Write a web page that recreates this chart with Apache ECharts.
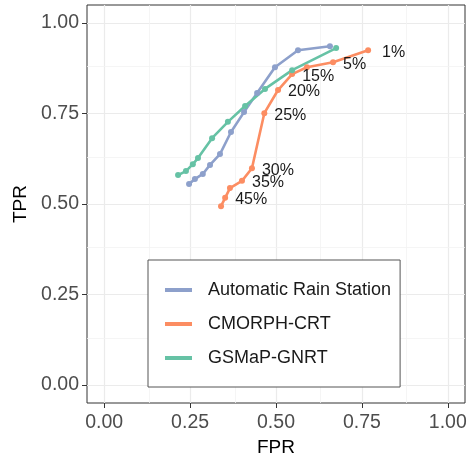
<!DOCTYPE html>
<html>
<head>
<meta charset="utf-8">
<script src="https://cdn.jsdelivr.net/npm/echarts@6/dist/echarts.min.js"></script>
<style>html,body{margin:0;padding:0;background:#fff}#c{width:474px;height:457px}</style>
</head>
<body>
<div id="c"></div>
<script>
// Data (FPR, TPR)
const seriesNames = ['Automatic Rain Station', 'CMORPH-CRT', 'GSMaP-GNRT'];
const stationFPR = [0.657, 0.564, 0.497, 0.445, 0.407, 0.369, 0.337, 0.308, 0.287, 0.264, 0.247];
const stationTPR = [0.936, 0.925, 0.878, 0.807, 0.754, 0.699, 0.638, 0.608, 0.583, 0.569, 0.555];
const cmorphFPR = [0.768, 0.666, 0.590, 0.547, 0.506, 0.466, 0.430, 0.401, 0.366, 0.352, 0.340];
const cmorphTPR = [0.925, 0.892, 0.878, 0.859, 0.815, 0.751, 0.599, 0.564, 0.544, 0.517, 0.494];
const cmorphLabels = ['1%', '5%', '', '15%', '20%', '25%', '30%', '35%', '', '45%', ''];
const gsmapFPR = [0.675, 0.547, 0.468, 0.410, 0.360, 0.314, 0.273, 0.258, 0.238, 0.215];
const gsmapTPR = [0.931, 0.870, 0.818, 0.771, 0.727, 0.682, 0.627, 0.610, 0.591, 0.580];
const tickValues = [0, 0.25, 0.5, 0.75, 1];
const minorValues = [0.125, 0.375, 0.625, 0.875];

const colors = ['#8DA0CB', '#FC8D62', '#66C2A5'];
const font = 'Liberation Sans, Arial, Helvetica, sans-serif';

function pairs(xs, ys) { return xs.map((x, i) => [x, ys[i]]); }

const cmorphData = cmorphFPR.map((x, i) => {
  const lab = cmorphLabels[i];
  return {
    value: [x, cmorphTPR[i]],
    label: {
      show: lab !== '',
      formatter: lab,
      position: 'right',
      distance: i === 0 ? 11 : 7,
      offset: [0, 2],
      fontSize: 16,
      fontFamily: font,
      color: '#1a1a1a'
    }
  };
});

const gridLineData = [];
tickValues.forEach(v => {
  gridLineData.push({ xAxis: v, lineStyle: { color: '#EBEBEB', width: 1.2, type: 'solid' } });
  gridLineData.push({ yAxis: v, lineStyle: { color: '#EBEBEB', width: 1.2, type: 'solid' } });
});
minorValues.forEach(v => {
  gridLineData.push({ xAxis: v, lineStyle: { color: '#F2F2F2', width: 0.8, type: 'solid' } });
  gridLineData.push({ yAxis: v, lineStyle: { color: '#F2F2F2', width: 0.8, type: 'solid' } });
});

function axisCommon(name, margin) {
  return {
    type: 'value', min: -0.05, max: 1.05,
    name: name, nameLocation: 'middle',
    nameTextStyle: { fontSize: 19, color: '#000', fontFamily: font },
    axisLine: { show: false, onZero: false },
    axisTick: { show: true, customValues: tickValues, length: 5, lineStyle: { color: '#333', width: 1 } },
    axisLabel: { customValues: tickValues, formatter: v => v.toFixed(2), fontSize: 19.5, color: '#4D4D4D', fontFamily: font, margin: margin },
    splitLine: { show: false },
    minorSplitLine: { show: false }
  };
}

const chart = echarts.init(document.getElementById('c'), null, { renderer: 'canvas' });
const lineSeries = (name, data, color) => ({
  name: name, type: 'line', data: data, z: 3,
  symbol: 'circle', symbolSize: 6, showSymbol: true,
  lineStyle: { color: color, width: 2.6 },
  itemStyle: { color: color },
  emphasis: { disabled: true }
});
chart.setOption({
  animation: false,
  color: colors,
  grid: { left: 87, right: 9, top: 5, bottom: 54, containLabel: false, outerBoundsMode: 'none', show: true, borderColor: '#333', borderWidth: 1, backgroundColor: '#fff' },
  xAxis: Object.assign(axisCommon('FPR', 10), { nameGap: 35 }),
  yAxis: Object.assign(axisCommon('TPR', 8), { nameGap: 57 }),
  legend: {
    data: seriesNames,
    orient: 'vertical', left: 148, top: 260,
    padding: [21, 9, 20, 17],
    itemGap: 16, itemWidth: 27, itemHeight: 4,
    icon: 'rect', z: 10,
    borderColor: '#555', borderWidth: 1, backgroundColor: '#fff',
    textStyle: { fontSize: 18, color: '#1a1a1a', fontFamily: font, padding: [0, 0, 0, 11] }
  },
  series: [
    { name: 'grid', type: 'line', data: [], z: 1, silent: true,
      markLine: { silent: true, z: 1, symbol: 'none', label: { show: false }, animation: false, data: gridLineData } },
    lineSeries(seriesNames[0], pairs(stationFPR, stationTPR), colors[0]),
    lineSeries(seriesNames[1], cmorphData, colors[1]),
    lineSeries(seriesNames[2], pairs(gsmapFPR, gsmapTPR), colors[2])
  ]
});
</script>
</body>
</html>
